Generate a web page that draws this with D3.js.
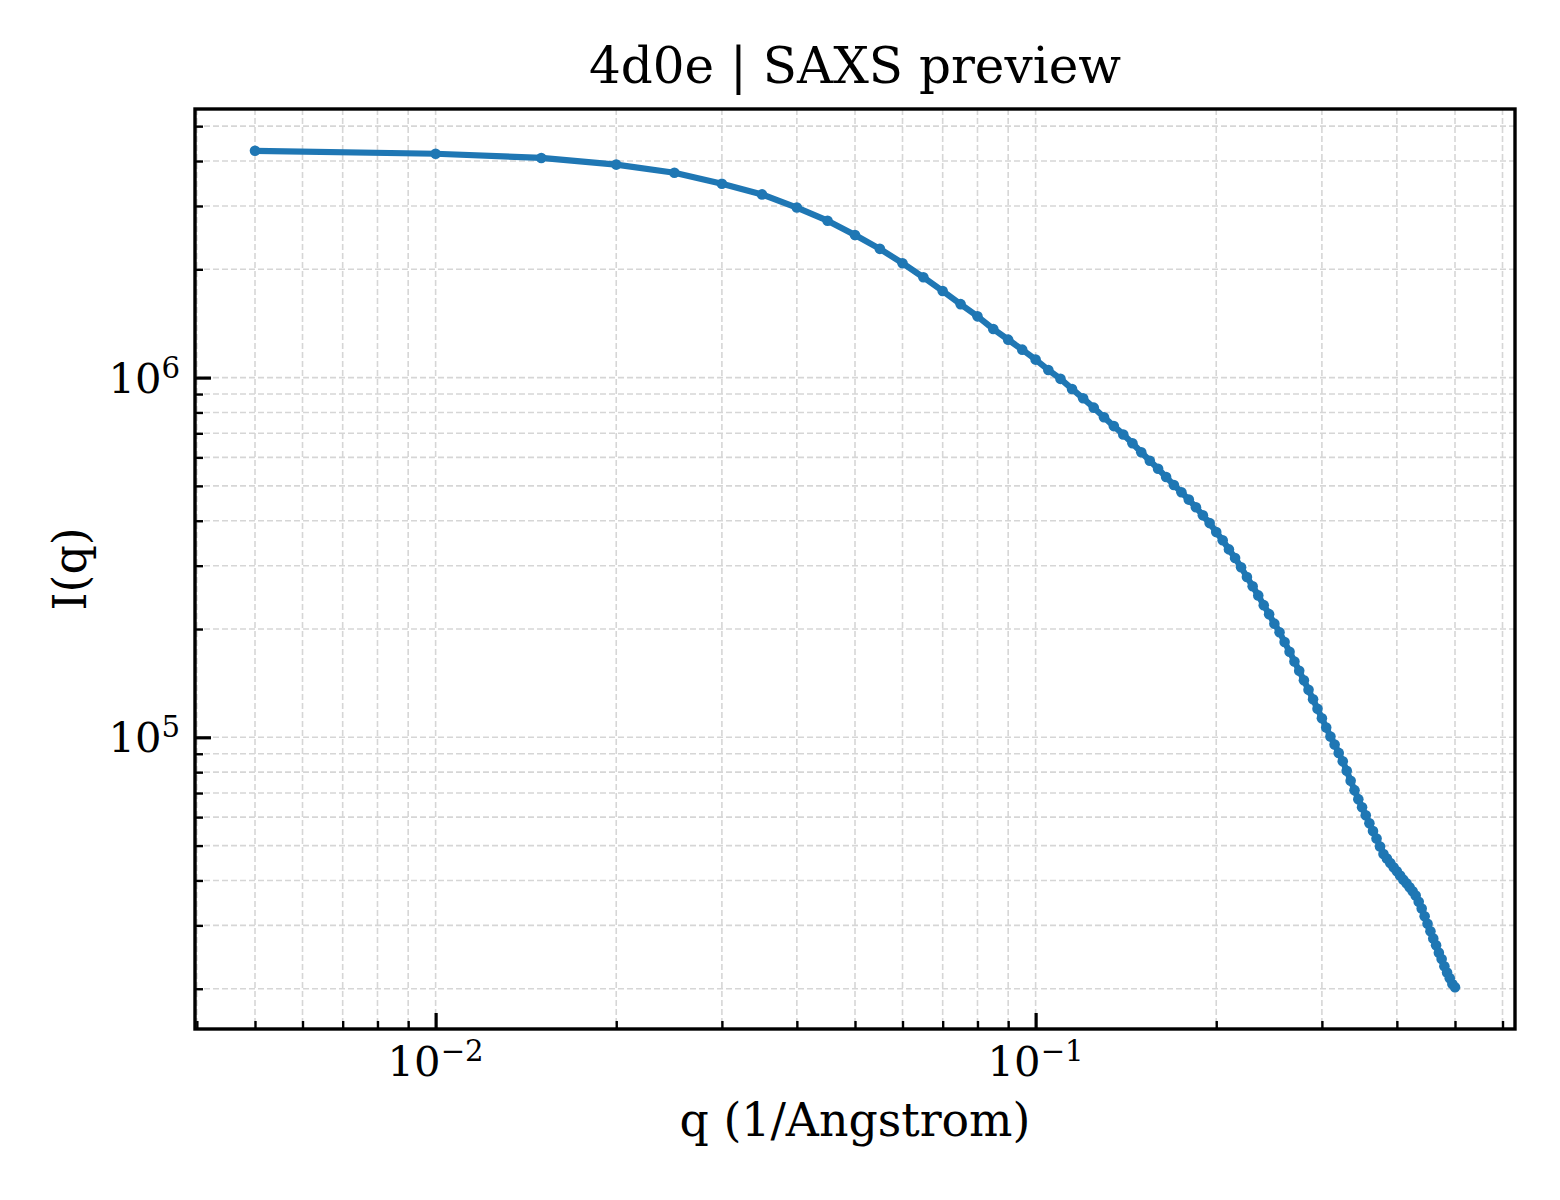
<!DOCTYPE html>
<html><head><meta charset="utf-8">
<script src="https://cdn.jsdelivr.net/npm/d3@7"></script>
<style>
body{margin:0;background:#fff}
svg{display:block}
text{font-family:"DejaVu Serif",serif;fill:#000}
</style>
</head><body>
<svg id="chart" width="1560" height="1200"></svg>
<script>
// ---- data ----
const qValues = [
  0.005,0.010,0.015,0.020,0.025,0.030,0.035,0.040,0.045,0.050,
  0.055,0.060,0.065,0.070,0.075,0.080,0.085,0.090,0.095,0.100,
  0.105,0.110,0.115,0.120,0.125,0.130,0.135,0.140,0.145,0.150,
  0.155,0.160,0.165,0.170,0.175,0.180,0.185,0.190,0.195,0.200,
  0.205,0.210,0.215,0.220,0.225,0.230,0.235,0.240,0.245,0.250,
  0.255,0.260,0.265,0.270,0.275,0.280,0.285,0.290,0.295,0.300,
  0.305,0.310,0.315,0.320,0.325,0.330,0.335,0.340,0.345,0.350,
  0.355,0.360,0.365,0.370,0.375,0.380,0.385,0.390,0.395,0.400,
  0.405,0.410,0.415,0.420,0.425,0.430,0.435,0.440,0.445,0.450,
  0.455,0.460,0.465,0.470,0.475,0.480,0.485,0.490,0.495,0.500
];
const intensity = [
  4.27e6,4.19e6,4.08e6,3.91e6,3.71e6,3.46e6,3.23e6,2.97e6,2.73e6,2.49e6,
  2.28e6,2.08e6,1.90e6,1.74e6,1.60e6,1.48e6,1.365e6,1.275e6,1.196e6,1.122e6,
  1.05e6,9.92e5,9.30e5,8.76e5,8.25e5,7.76e5,7.33e5,6.95e5,6.57e5,6.20e5,
  5.87e5,5.58e5,5.29e5,5.03e5,4.80e5,4.58e5,4.36e5,4.14e5,3.94e5,3.72e5,
  3.53e5,3.33e5,3.15e5,2.97e5,2.79e5,2.63e5,2.48e5,2.33e5,2.20e5,2.07e5,
  1.96e5,1.84e5,1.73e5,1.625e5,1.53e5,1.44e5,1.355e5,1.275e5,1.20e5,1.13e5,
  1.065e5,1.005e5,9.55e4,9.05e4,8.58e4,8.07e4,7.57e4,7.13e4,6.73e4,6.39e4,
  6.07e4,5.77e4,5.49e4,5.23e4,4.97e4,4.74e4,4.60e4,4.47e4,4.35e4,4.24e4,
  4.13e4,4.02e4,3.93e4,3.83e4,3.73e4,3.63e4,3.49e4,3.34e4,3.18e4,3.03e4,
  2.89e4,2.76e4,2.64e4,2.52e4,2.42e4,2.31e4,2.22e4,2.14e4,2.06e4,2.02e4
];
const xMajorTicks = [0.01, 0.1];
const xMajorLabels = [["10","\u22122"],["10","\u22121"]];
const yMajorTicks = [1e5, 1e6];
const yMajorLabels = [["10","5"],["10","6"]];
const titleText = "4d0e | SAXS preview";
const xLabelText = "q (1/Angstrom)";
const yLabelText = "I(q)";

// ---- layout ----
const m = {left:195, right:1515, top:109, bottom:1029};
const tickFont = 41.7, labelFont = 45.8, titleFont = 50;
const color = "#1f77b4";

const lx = d3.extent(qValues).map(Math.log10);
const ly = d3.extent(intensity).map(Math.log10);
const padX = 0.05*(lx[1]-lx[0]), padY = 0.05*(ly[1]-ly[0]);
const x = d3.scaleLog().domain([10**(lx[0]-padX), 10**(lx[1]+padX)]).range([m.left, m.right]);
const y = d3.scaleLog().domain([10**(ly[0]-padY), 10**(ly[1]+padY)]).range([m.bottom, m.top]);

const svg = d3.select("#chart");
svg.append("rect").attr("width",1560).attr("height",1200).attr("fill","#fff");

const isPow10 = v => Math.abs(Math.log10(v) - Math.round(Math.log10(v))) < 1e-9;
const xAll = x.ticks(), yAll = y.ticks();
const xMinor = xAll.filter(v => !isPow10(v));
const yMinor = yAll.filter(v => !isPow10(v));

// grid
const grid = svg.append("g").attr("stroke","#d6d6d6").attr("stroke-width",1.6).attr("stroke-dasharray","6,3");
grid.selectAll("line.gx").data(xAll).join("line")
  .attr("x1",d=>x(d)).attr("x2",d=>x(d)).attr("y1",m.top).attr("y2",m.bottom);
grid.selectAll("line.gy").data(yAll).join("line")
  .attr("y1",d=>y(d)).attr("y2",d=>y(d)).attr("x1",m.left).attr("x2",m.right);

// axes ticks (inward)
function tickAxis(axis, transform, width){
  const g = svg.append("g").attr("transform",transform).call(axis);
  g.select(".domain").remove();
  g.selectAll(".tick line").attr("stroke","#000").attr("stroke-width",width);
  g.selectAll(".tick text").remove();
  return g;
}
tickAxis(d3.axisBottom(x).tickValues(xMajorTicks).tickSize(-16).tickFormat(""), `translate(0,${m.bottom})`, 3.2);
tickAxis(d3.axisBottom(x).tickValues(xMinor).tickSize(-8).tickFormat(""), `translate(0,${m.bottom})`, 2.4);
tickAxis(d3.axisLeft(y).tickValues(yMajorTicks).tickSize(-16).tickFormat(""), `translate(${m.left},0)`, 3.2);
tickAxis(d3.axisLeft(y).tickValues(yMinor).tickSize(-8).tickFormat(""), `translate(${m.left},0)`, 2.4);

// data line + markers
const pts = qValues.map((q,i)=>[q,intensity[i]]);
svg.append("path").datum(pts)
  .attr("fill","none").attr("stroke",color).attr("stroke-width",6.2)
  .attr("stroke-linejoin","round").attr("stroke-linecap","round")
  .attr("d", d3.line().x(d=>x(d[0])).y(d=>y(d[1])));
svg.append("g").selectAll("circle").data(pts).join("circle")
  .attr("cx",d=>x(d[0])).attr("cy",d=>y(d[1])).attr("r",5.3).attr("fill",color);

// frame
svg.append("rect").attr("x",m.left).attr("y",m.top)
  .attr("width",m.right-m.left).attr("height",m.bottom-m.top)
  .attr("fill","none").attr("stroke","#000").attr("stroke-width",3.4);

// tick labels
function powLabel(t, parts){
  t.append("tspan").text(parts[0]);
  t.append("tspan").attr("font-size",tickFont*0.7).attr("dy",-tickFont*0.36).text(parts[1]);
}
xMajorTicks.forEach((v,i)=>{
  const t = svg.append("text").attr("x",x(v)).attr("y",1076)
    .attr("text-anchor","middle").attr("font-size",tickFont);
  powLabel(t, xMajorLabels[i]);
});
yMajorTicks.forEach((v,i)=>{
  const t = svg.append("text").attr("x",m.left-15).attr("y",y(v)+15)
    .attr("text-anchor","end").attr("font-size",tickFont);
  powLabel(t, yMajorLabels[i]);
});

// title & labels
const cx = (m.left+m.right)/2, cy = (m.top+m.bottom)/2;
svg.append("text").attr("x",cx).attr("y",83).attr("text-anchor","middle")
  .attr("font-size",titleFont).text(titleText);
svg.append("text").attr("x",cx).attr("y",1136).attr("text-anchor","middle")
  .attr("font-size",labelFont).text(xLabelText);
svg.append("text").attr("transform",`translate(86,${cy}) rotate(-90)`)
  .attr("text-anchor","middle").attr("font-size",labelFont).text(yLabelText);
</script>
</body></html>
